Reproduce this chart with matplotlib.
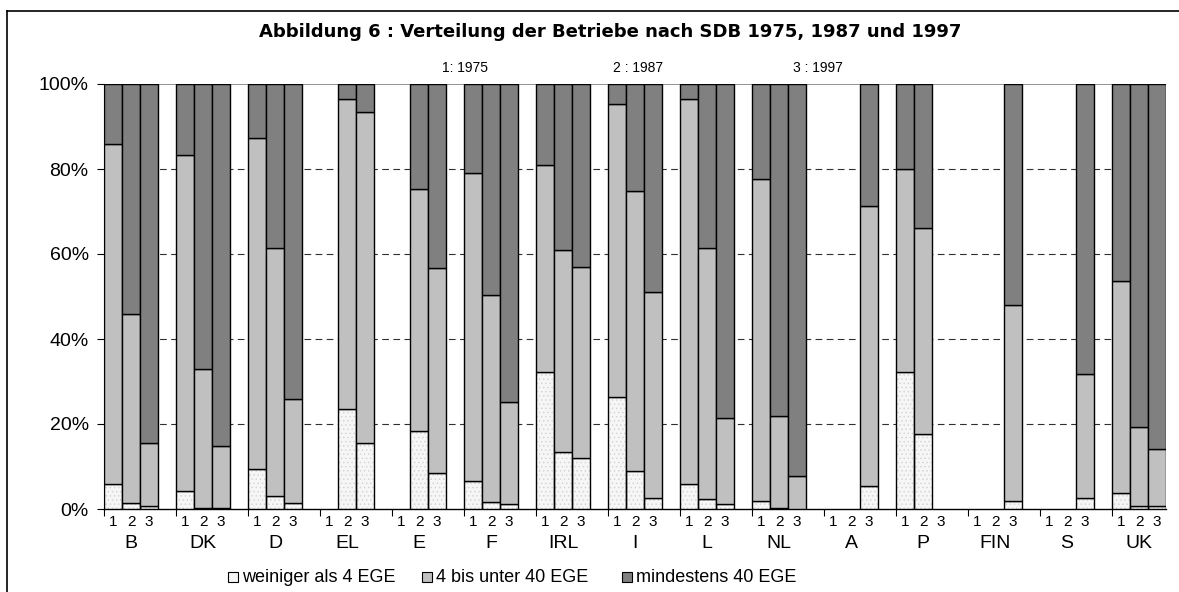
import matplotlib.pyplot as plt
from matplotlib.patches import Rectangle
from matplotlib.lines import Line2D
from matplotlib.ticker import FixedLocator, PercentFormatter

# Countries and shares (%) per size class
countries = ['B', 'DK', 'D', 'EL', 'E', 'F', 'IRL', 'I', 'L', 'NL', 'A', 'P', 'FIN', 'S', 'UK']
year_labels = ['1', '2', '3']

small_1975 = [5.8, 4.2, 9.3, None, None, 6.6, 32.2, 26.3, 5.9, 1.9, None, 32.2, None, None, 3.8]
mid_1975 = [80.0, 79.1, 78.1, None, None, 72.4, 48.7, 69.0, 90.6, 75.7, None, 47.7, None, None, 49.8]
large_1975 = [14.2, 16.7, 12.6, None, None, 21.0, 19.1, 4.7, 3.5, 22.4, None, 20.1, None, None, 46.4]

small_1987 = [1.3, 0.3, 3.1, 23.5, 18.4, 1.7, 13.3, 8.9, 2.3, 0.3, None, 17.6, None, None, 0.8]
mid_1987 = [44.6, 32.6, 58.2, 73.0, 56.8, 48.7, 47.6, 65.9, 59.0, 21.6, None, 48.6, None, None, 18.4]
large_1987 = [54.1, 67.1, 38.7, 3.5, 24.8, 49.6, 39.1, 25.2, 38.7, 78.1, None, 33.8, None, None, 80.8]

small_1997 = [0.8, 0.3, 1.3, 15.6, 8.5, 1.1, 12.1, 2.7, 1.1, 0.1, 5.4, None, 1.9, 2.7, 0.8]
mid_1997 = [14.8, 14.5, 24.6, 77.7, 48.1, 24.1, 44.8, 48.4, 20.4, 7.7, 65.9, None, 46.1, 29.1, 13.3]
large_1997 = [84.4, 85.2, 74.1, 6.7, 43.4, 74.8, 43.1, 48.9, 78.5, 92.2, 28.7, None, 52.0, 68.2, 85.9]

legend_labels = ['weiniger als 4 EGE', '4 bis unter 40 EGE', 'mindestens 40 EGE']
year_notes = ['1: 1975', '2 : 1987', '3 : 1997']

light = '#f6f6f6'
grey = '#c0c0c0'
dark = '#808080'
narrow = ['Liberation Sans Narrow', 'Liberation Sans', 'DejaVu Sans']

plt.rcParams['font.family'] = ['Liberation Sans', 'DejaVu Sans']
plt.rcParams['hatch.linewidth'] = 0.5

fig = plt.figure(figsize=(11.79, 5.92), dpi=100)
ax = fig.add_axes([104 / 1179, 1 - 509 / 592, 1062 / 1179, 425 / 592])

years = [(small_1975, mid_1975, large_1975),
         (small_1987, mid_1987, large_1987),
         (small_1997, mid_1997, large_1997)]

for j, (small, mid, large) in enumerate(years):
    for i in range(len(countries)):
        if small[i] is None:
            continue
        x = i * 4 + j
        # stippled bottom segment
        ax.bar(x, small[i], width=1, align='edge', color=light, edgecolor='#d2d2d2',
               hatch='....', linewidth=0, zorder=3)
        ax.bar(x, small[i], width=1, align='edge', fill=False, edgecolor='black',
               linewidth=1.0, zorder=4)
        ax.bar(x, mid[i], bottom=small[i], width=1, align='edge', color=grey,
               edgecolor='black', linewidth=1.0, zorder=4)
        ax.bar(x, large[i], bottom=small[i] + mid[i], width=1, align='edge', color=dark,
               edgecolor='black', linewidth=1.0, zorder=4)

ax.set_xlim(0, len(countries) * 4 - 1)
ax.set_ylim(0, 100)

# gridlines
for y in [20, 40, 60, 80]:
    ax.axhline(y, color='#303030', linewidth=0.8, linestyle=(0, (6, 4)), zorder=1)
ax.axhline(100, color=dark, linewidth=1.2, zorder=2)

for side in ['top', 'right']:
    ax.spines[side].set_visible(False)
ax.spines['left'].set_linewidth(0.8)
ax.spines['bottom'].set_linewidth(1.0)

ax.yaxis.set_major_locator(FixedLocator([0, 20, 40, 60, 80, 100]))
ax.yaxis.set_major_formatter(PercentFormatter(decimals=0))
ax.tick_params(axis='y', length=5, width=0.8, labelsize=14, pad=6)

ax.xaxis.set_major_locator(FixedLocator([i * 4 for i in range(len(countries))]))
ax.tick_params(axis='x', which='major', length=5, width=0.8, labelbottom=False)
minor_pos = [i * 4 + j + 0.5 for i in range(len(countries)) for j in range(3)]
ax.xaxis.set_minor_locator(FixedLocator(minor_pos))
ax.set_xticklabels(year_labels * len(countries), minor=True)
ax.tick_params(axis='x', which='minor', length=0, pad=4, labelsize=11)
for lbl in ax.get_xticklabels(minor=True):
    lbl.set_family(narrow)

for i, c in enumerate(countries):
    ax.text(i * 4 + 1.5, -0.08, c, transform=ax.get_xaxis_transform(),
            ha='center', va='center', fontsize=14)

# year notes above the plot
for k, note in enumerate(year_notes):
    fig.text([465, 638, 818][k] / 1179, 1 - 68 / 592, note, ha='center', va='center',
             fontsize=10, family=narrow)

fig.text(610 / 1179, 1 - 32 / 592,
         'Abbildung 6 : Verteilung der Betriebe nach SDB 1975, 1987 und 1997',
         ha='center', va='center', fontsize=13, fontweight='bold',
         family=['DejaVu Sans'])

# legend drawn by hand
leg_x = [228, 422, 622]
leg_colors = [light, grey, dark]
for k, lab in enumerate(legend_labels):
    x0 = leg_x[k] / 1179
    fig.add_artist(Rectangle((x0, 1 - 582 / 592), 10 / 1179, 10 / 592,
                             facecolor=leg_colors[k], edgecolor='black', linewidth=0.8,
                             transform=fig.transFigure))
    fig.text(x0 + 14 / 1179, 1 - 577 / 592, lab, ha='left', va='center', fontsize=13)

# outer frame
fig.add_artist(Line2D([7 / 1179, 7 / 1179], [0, 1 - 11 / 592], color='black',
                      linewidth=1.2, transform=fig.transFigure))
fig.add_artist(Line2D([7 / 1179, 1], [1 - 11 / 592, 1 - 11 / 592], color='black',
                      linewidth=1.2, transform=fig.transFigure))

fig.savefig('out.png', dpi=100)
plt.close(fig)
